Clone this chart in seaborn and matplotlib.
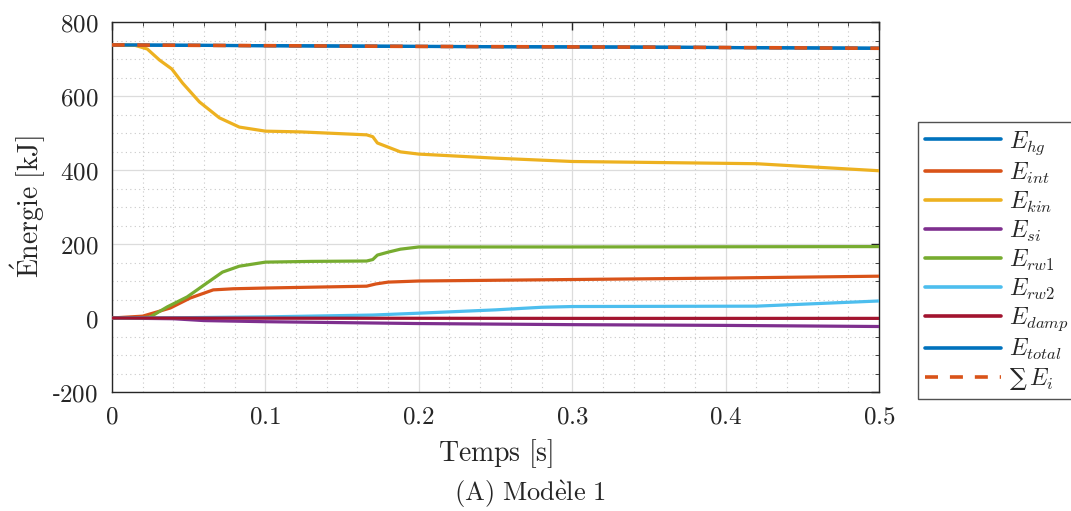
import numpy as np
import pandas as pd
import matplotlib
matplotlib.use("Agg")
import matplotlib.pyplot as plt
from matplotlib.ticker import MultipleLocator, FuncFormatter
import seaborn as sns

# ---- data ----
t_hg = [0.0, 0.05, 0.2, 0.35, 0.5]
e_hg = [738, 737, 734, 732, 729]

t_int = [0, 0.02, 0.038, 0.051, 0.066, 0.079, 0.100, 0.166, 0.172, 0.180, 0.200, 0.300, 0.400, 0.500]
e_int = [0, 5, 27, 54, 76, 79, 81, 86, 92, 97, 100, 104, 108, 113]

t_kin = [0, 0.015, 0.023, 0.031, 0.039, 0.046, 0.057, 0.070, 0.083, 0.100, 0.123, 0.166, 0.170,
         0.173, 0.188, 0.200, 0.250, 0.300, 0.420, 0.500]
e_kin = [738, 737, 727, 697, 673, 635, 584, 541, 516, 505, 503, 495, 490, 473, 449, 443, 432,
         423, 417, 398]

t_si = [0, 0.04, 0.06, 0.1, 0.2, 0.3, 0.4, 0.5]
e_si = [0, -2, -7, -10, -15, -18, -20, -23]

t_rw1 = [0, 0.02, 0.025, 0.036, 0.049, 0.062, 0.072, 0.083, 0.100, 0.130, 0.166, 0.170, 0.173,
         0.180, 0.188, 0.200, 0.300, 0.500]
e_rw1 = [0, 1, 3, 30, 57, 95, 124, 140, 151, 153, 154, 158, 170, 178, 186, 192, 192, 193]

t_rw2 = [0, 0.05, 0.1, 0.17, 0.2, 0.25, 0.28, 0.3, 0.42, 0.5]
e_rw2 = [0, 1, 3, 8, 13, 22, 29, 31, 32, 46]

t_damp = [0, 0.1, 0.3, 0.5]
e_damp = [0, -0.5, -1, -1]

t_total = t_hg
e_total = e_hg

t_sum = [0.0, 0.05, 0.2, 0.35, 0.5]
e_sum = [738, 737, 734, 732, 729]

labels = [r"$E_{hg}$", r"$E_{int}$", r"$E_{kin}$", r"$E_{si}$", r"$E_{rw1}$", r"$E_{rw2}$",
          r"$E_{damp}$", r"$E_{total}$", "\u2211" + r"$\,E_i$"]
colors = ["#0072BD", "#D95319", "#EDB120", "#7E2F8E", "#77AC30", "#4DBEEE", "#A2142F",
          "#0072BD", "#D95319"]

series = [(t_hg, e_hg), (t_int, e_int), (t_kin, e_kin), (t_si, e_si), (t_rw1, e_rw1),
          (t_rw2, e_rw2), (t_damp, e_damp), (t_total, e_total), (t_sum, e_sum)]

# ---- style ----
sns.set_style("white")
plt.rcParams["mathtext.fontset"] = "cm"
plt.rcParams["font.family"] = ["DejaVu Serif"]

fig = plt.figure(figsize=(10.71, 5.11), dpi=100)
W, H = 1071, 511
ax = fig.add_axes([112 / W, 1 - 392 / H, (879 - 112) / W, (392 - 22) / H])

for i, ((t, e), lab, col) in enumerate(zip(series, labels, colors)):
    df = pd.DataFrame({"t": t, "E": e})
    if i == 8:
        sns.lineplot(data=df, x="t", y="E", ax=ax, color=col, lw=2.6, label=lab, zorder=5)
        ax.lines[-1].set_dashes((3.5, 3.5))
    else:
        sns.lineplot(data=df, x="t", y="E", ax=ax, color=col, lw=2.3, label=lab, zorder=3)

ax.set_xlim(0, 0.5)
ax.set_ylim(-200, 800)
ax.xaxis.set_major_locator(MultipleLocator(0.1))
ax.xaxis.set_minor_locator(MultipleLocator(0.02))
ax.yaxis.set_major_locator(MultipleLocator(200))
ax.yaxis.set_minor_locator(MultipleLocator(50))

ax.xaxis.set_major_formatter(FuncFormatter(lambda v, p: "$" + f"{v:g}" + "$"))
ax.yaxis.set_major_formatter(FuncFormatter(lambda v, p: ("-" if v < 0 else "") + "$" + f"{abs(v):g}" + "$"))

ax.grid(True, which="major", color="#dcdcdc", lw=0.9, ls="-")
ax.grid(True, which="minor", color="#c8c8c8", lw=0.8, ls=(0, (1, 3)))
ax.set_axisbelow(True)
ax.tick_params(which="both", direction="in", top=True, right=True, colors="#262626",
               labelsize=18, pad=10)
ax.tick_params(which="major", length=6, width=1)
ax.tick_params(which="minor", length=3, width=0.6)
for s in ax.spines.values():
    s.set_color("#262626")
    s.set_linewidth(1.0)

ax.set_xlabel(r"$\mathrm{Temps\ [s]}$", fontsize=20, labelpad=6)
ax.set_ylabel(r"$\mathrm{\acute{E}nergie\ [kJ]}$", fontsize=20, labelpad=2)

leg = ax.legend(loc="upper left", bbox_to_anchor=(918 / W, 1 - 122 / H),
                bbox_transform=fig.transFigure, borderaxespad=0, fontsize=17,
                frameon=True, fancybox=False, handlelength=3.2, handletextpad=0.35,
                labelspacing=0.17, borderpad=0.3)
leg.get_frame().set_edgecolor("#262626")
leg.get_frame().set_linewidth(1.0)
for h in leg.get_lines():
    h.set_linewidth(2.6)
leg.get_lines()[8].set_dashes((3.6, 3.3))

fig.text(530 / W, 1 - 494 / H, r"$\mathrm{(A)\ Mod\grave{e}le\ 1}$", ha="center", va="center",
         fontsize=19)

fig.savefig("out.png", dpi=100)
